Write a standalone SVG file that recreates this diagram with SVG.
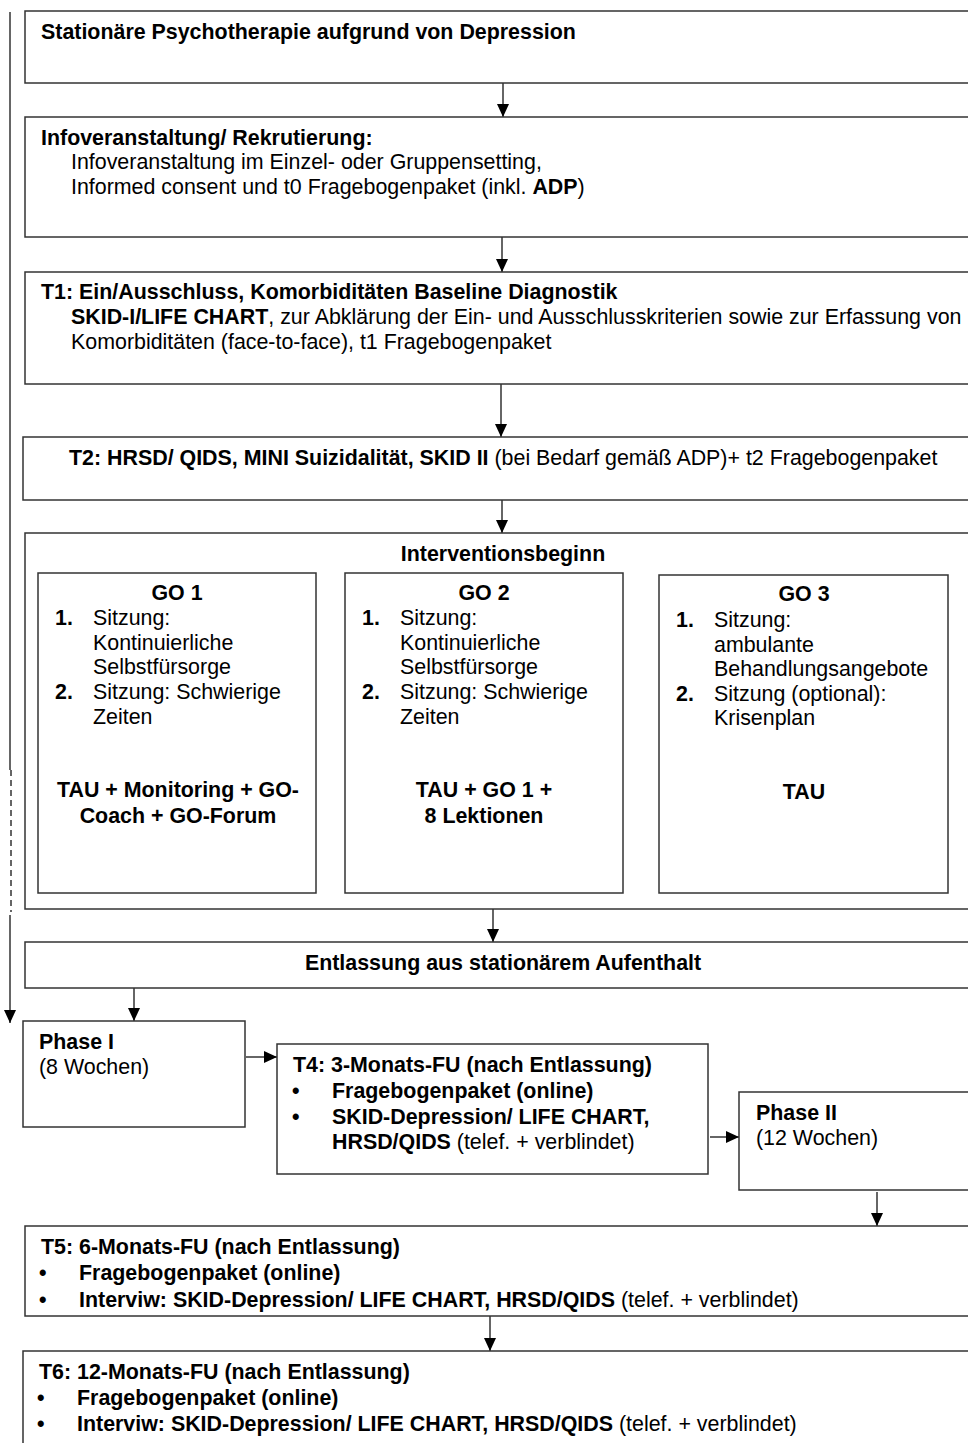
<svg xmlns="http://www.w3.org/2000/svg" width="968" height="1443" viewBox="0 0 968 1443">
<defs>
<style>
text{font-family:"Liberation Sans",Arial,sans-serif;font-size:21.4px;fill:#000}
.b{font-weight:bold}
.c{text-anchor:middle}
.box{fill:#fff;stroke:#333;stroke-width:1.5}
.ln{fill:none;stroke:#333;stroke-width:1.5}
</style>
<marker id="ah" markerUnits="userSpaceOnUse" markerWidth="14" markerHeight="14" viewBox="0 0 14 14" refX="13" refY="7" orient="auto">
<path d="M0,1 L13,7 L0,13 Z" fill="#000"/>
</marker>
</defs>
<g id="connectors">
<path class="ln" d="M10,12 V770"/>
<path class="ln" d="M11,770 V912" stroke-dasharray="6,4"/>
<path class="ln" d="M10,915 V1023" marker-end="url(#ah)"/>
<path class="ln" d="M503,83 V117" marker-end="url(#ah)"/>
<path class="ln" d="M502,237 V272" marker-end="url(#ah)"/>
<path class="ln" d="M501,384 V437" marker-end="url(#ah)"/>
<path class="ln" d="M502,500 V533" marker-end="url(#ah)"/>
<path class="ln" d="M493,909 V942" marker-end="url(#ah)"/>
<path class="ln" d="M134,988 V1021" marker-end="url(#ah)"/>
<path class="ln" d="M246,1057 H277" marker-end="url(#ah)"/>
<path class="ln" d="M710,1137 H739" marker-end="url(#ah)"/>
<path class="ln" d="M877,1192 V1226" marker-end="url(#ah)"/>
<path class="ln" d="M490,1316 V1351" marker-end="url(#ah)"/>
</g>
<g id="n1">
<rect class="box" x="25" y="11" width="960" height="72"/>
<text class="b" x="41" y="39">Stationäre Psychotherapie aufgrund von Depression</text>
</g>
<g id="n2">
<rect class="box" x="25" y="117" width="960" height="120"/>
<text class="b" x="41" y="145">Infoveranstaltung/ Rekrutierung:</text>
<text x="71" y="169">Infoveranstaltung im Einzel- oder Gruppensetting,</text>
<text x="71" y="194">Informed consent und t0 Fragebogenpaket (inkl. <tspan class="b">ADP</tspan>)</text>
</g>
<g id="n3">
<rect class="box" x="25" y="272" width="960" height="112"/>
<text class="b" x="41" y="299">T1: Ein/Ausschluss, Komorbiditäten Baseline Diagnostik</text>
<text x="71" y="324"><tspan class="b">SKID-I/LIFE CHART</tspan>, zur Abklärung der Ein- und Ausschlusskriterien sowie zur Erfassung von</text>
<text x="71" y="349">Komorbiditäten (face-to-face), t1 Fragebogenpaket</text>
</g>
<g id="n4">
<rect class="box" x="23" y="437" width="962" height="63"/>
<text x="69" y="465"><tspan class="b">T2: HRSD/ QIDS, MINI Suizidalität, SKID II</tspan> (bei Bedarf gemäß ADP)+ t2 Fragebogenpaket</text>
</g>
<g id="n5">
<rect class="box" x="25" y="533" width="960" height="376"/>
<text class="b c" x="503" y="561">Interventionsbeginn</text>
</g>
<g id="go1">
<rect class="box" x="38" y="573" width="278" height="320"/>
<text class="b c" x="177" y="600">GO 1</text>
<text class="b" x="55" y="625">1.</text>
<text x="93" y="625">Sitzung:</text>
<text x="93" y="650">Kontinuierliche</text>
<text x="93" y="674">Selbstfürsorge</text>
<text class="b" x="55" y="699">2.</text>
<text x="93" y="699">Sitzung: Schwierige</text>
<text x="93" y="724">Zeiten</text>
<text class="b c" x="178" y="797">TAU + Monitoring + GO-</text>
<text class="b c" x="178" y="823">Coach + GO-Forum</text>
</g>
<g id="go2">
<rect class="box" x="345" y="573" width="278" height="320"/>
<text class="b c" x="484" y="600">GO 2</text>
<text class="b" x="362" y="625">1.</text>
<text x="400" y="625">Sitzung:</text>
<text x="400" y="650">Kontinuierliche</text>
<text x="400" y="674">Selbstfürsorge</text>
<text class="b" x="362" y="699">2.</text>
<text x="400" y="699">Sitzung: Schwierige</text>
<text x="400" y="724">Zeiten</text>
<text class="b c" x="484" y="797">TAU + GO 1 +</text>
<text class="b c" x="484" y="823">8 Lektionen</text>
</g>
<g id="go3">
<rect class="box" x="659" y="575" width="289" height="318"/>
<text class="b c" x="804" y="601">GO 3</text>
<text class="b" x="676" y="627">1.</text>
<text x="714" y="627">Sitzung:</text>
<text x="714" y="652">ambulante</text>
<text x="714" y="676">Behandlungsangebote</text>
<text class="b" x="676" y="701">2.</text>
<text x="714" y="701">Sitzung (optional):</text>
<text x="714" y="725">Krisenplan</text>
<text class="b c" x="804" y="799">TAU</text>
</g>
<g id="n6">
<rect class="box" x="25" y="942" width="960" height="46"/>
<text class="b c" x="503" y="970">Entlassung aus stationärem Aufenthalt</text>
</g>
<g id="phase1">
<rect class="box" x="23" y="1021" width="222" height="106"/>
<text class="b" x="39" y="1049">Phase I</text>
<text x="39" y="1074">(8 Wochen)</text>
</g>
<g id="t4">
<rect class="box" x="277" y="1044" width="431" height="130"/>
<text class="b" x="293" y="1072">T4: 3-Monats-FU (nach Entlassung)</text>
<text class="b" x="292" y="1098">•</text>
<text class="b" x="332" y="1098">Fragebogenpaket (online)</text>
<text class="b" x="292" y="1124">•</text>
<text class="b" x="332" y="1124">SKID-Depression/ LIFE CHART,</text>
<text x="332" y="1149"><tspan class="b">HRSD/QIDS</tspan> (telef. + verblindet)</text>
</g>
<g id="phase2">
<rect class="box" x="739" y="1092" width="246" height="98"/>
<text class="b" x="756" y="1120">Phase II</text>
<text x="756" y="1145">(12 Wochen)</text>
</g>
<g id="t5">
<rect class="box" x="25" y="1226" width="960" height="90"/>
<text class="b" x="41" y="1254">T5: 6-Monats-FU (nach Entlassung)</text>
<text class="b" x="39" y="1280">•</text>
<text class="b" x="79" y="1280">Fragebogenpaket (online)</text>
<text class="b" x="39" y="1307">•</text>
<text x="79" y="1307"><tspan class="b">Interviw: SKID-Depression/ LIFE CHART, HRSD/QIDS</tspan> (telef. + verblindet)</text>
</g>
<g id="t6">
<rect class="box" x="23" y="1351" width="962" height="110"/>
<text class="b" x="39" y="1379">T6: 12-Monats-FU (nach Entlassung)</text>
<text class="b" x="37" y="1405">•</text>
<text class="b" x="77" y="1405">Fragebogenpaket (online)</text>
<text class="b" x="37" y="1431">•</text>
<text x="77" y="1431"><tspan class="b">Interviw: SKID-Depression/ LIFE CHART, HRSD/QIDS</tspan> (telef. + verblindet)</text>
</g>
</svg>
